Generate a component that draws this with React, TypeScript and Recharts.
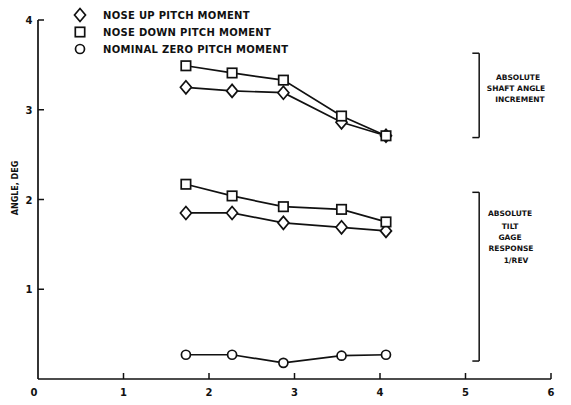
import React from "react";
import { LineChart, Line, XAxis, YAxis, ReferenceLine } from "recharts";

// advance ratio positions of the five test points
const xValues = [1.73, 2.27, 2.87, 3.55, 4.07];

// absolute shaft angle increment
const noseUpShaft = [3.25, 3.21, 3.19, 2.86, 2.71];
const noseDownShaft = [3.49, 3.41, 3.33, 2.93, 2.71];

// absolute tilt gage response 1/rev
const noseUpTilt = [1.85, 1.85, 1.74, 1.69, 1.65];
const noseDownTilt = [2.17, 2.04, 1.92, 1.89, 1.75];
const zeroTilt = [0.27, 0.27, 0.18, 0.26, 0.27];

const xTicks = [0, 1, 2, 3, 4, 5, 6];
const yTicks = [0, 1, 2, 3, 4];

const legendItems = [
  { label: "NOSE UP PITCH MOMENT", shape: "diamond" },
  { label: "NOSE DOWN PITCH MOMENT", shape: "square" },
  { label: "NOMINAL ZERO PITCH MOMENT", shape: "circle" },
];

const toPoints = (ys: number[]) => ys.map((y, i) => ({ x: xValues[i], y }));

const INK = "#111";
const FONT = "'DejaVu Sans', sans-serif";

const Marker = ({ shape, cx, cy }: { shape: string; cx: number; cy: number }) => {
  if (shape === "diamond") {
    return (
      <polygon
        points={`${cx},${cy - 6.5} ${cx + 5.5},${cy} ${cx},${cy + 6.5} ${cx - 5.5},${cy}`}
        fill="#fff"
        stroke={INK}
        strokeWidth={1.7}
      />
    );
  }
  if (shape === "square") {
    return (
      <rect x={cx - 4.7} y={cy - 4.7} width={9.4} height={9.4} fill="#fff" stroke={INK} strokeWidth={1.7} />
    );
  }
  return <circle cx={cx} cy={cy} r={4.5} fill="#fff" stroke={INK} strokeWidth={1.7} />;
};

const dotFor = (shape: string) => (props: any) => (
  <Marker key={`${shape}-${props.index}`} shape={shape} cx={props.cx} cy={props.cy} />
);

const XTick = (props: any) => {
  const { x, y, payload } = props;
  return (
    <g>
      {payload.value > 0 && <line x1={x} y1={y} x2={x} y2={y - 6} stroke={INK} strokeWidth={1.5} />}
      <text x={payload.value === 0 ? x - 4 : x} y={y + 17} textAnchor="middle" fontSize={10} fontWeight="bold" fontFamily={FONT} fill={INK}>
        {payload.value}
      </text>
    </g>
  );
};

const YTick = (props: any) => {
  const { x, y, payload } = props;
  if (payload.value === 0) return <g />;
  return (
    <g>
      <line x1={x} y1={y} x2={x + 6} y2={y} stroke={INK} strokeWidth={1.5} />
      <text x={x - 9} y={y + 4} textAnchor="middle" fontSize={10} fontWeight="bold" fontFamily={FONT} fill={INK}>
        {payload.value}
      </text>
    </g>
  );
};

const series = [
  { id: "nu-shaft", ys: noseUpShaft, shape: "diamond" },
  { id: "nd-shaft", ys: noseDownShaft, shape: "square" },
  { id: "nu-tilt", ys: noseUpTilt, shape: "diamond" },
  { id: "nd-tilt", ys: noseDownTilt, shape: "square" },
  { id: "zero-tilt", ys: zeroTilt, shape: "circle" },
];

// bracket annotations in data units
const brackets = [
  { x: 5.16, top: 3.63, bottom: 2.69 },
  { x: 5.16, top: 2.08, bottom: 0.2 },
];
const serif = 0.08;

const noteStyle = { fontSize: 7.5, fontWeight: "bold" as const, fontFamily: FONT, fill: INK };

export default function App() {
  return (
    <div style={{ position: "absolute", left: 0, top: 0, width: 571, height: 405, background: "#fff" }}>
      <LineChart width={571} height={405} margin={{ top: 20, right: 20, bottom: 0, left: 0 }}>
        <XAxis
          type="number"
          dataKey="x"
          domain={[0, 6]}
          ticks={xTicks}
          height={26}
          tickSize={0}
          tickMargin={0}
          tick={<XTick />}
          axisLine={{ stroke: INK, strokeWidth: 1.7 }}
          tickLine={false}
          allowDataOverflow
        />
        <YAxis
          type="number"
          domain={[0, 4]}
          ticks={yTicks}
          width={38}
          tickSize={0}
          tickMargin={0}
          tick={<YTick />}
          axisLine={{ stroke: INK, strokeWidth: 1.7 }}
          tickLine={false}
          allowDataOverflow
        />
        {brackets.map((b, i) => (
          <ReferenceLine key={`bv-${i}`} segment={[{ x: b.x, y: b.top }, { x: b.x, y: b.bottom }]} stroke={INK} strokeWidth={1.5} />
        ))}
        {brackets.map((b, i) => (
          <ReferenceLine key={`bt-${i}`} segment={[{ x: b.x - serif, y: b.top }, { x: b.x, y: b.top }]} stroke={INK} strokeWidth={1.5} />
        ))}
        {brackets.map((b, i) => (
          <ReferenceLine key={`bb-${i}`} segment={[{ x: b.x - serif, y: b.bottom }, { x: b.x, y: b.bottom }]} stroke={INK} strokeWidth={1.5} />
        ))}
        {series.map((s) => (
          <Line
            key={s.id}
            data={toPoints(s.ys)}
            dataKey="y"
            type="linear"
            stroke={INK}
            strokeWidth={1.7}
            dot={dotFor(s.shape)}
            activeDot={false}
            isAnimationActive={false}
          />
        ))}
      </LineChart>
      <svg width={571} height={405} style={{ position: "absolute", left: 0, top: 0, pointerEvents: "none" }}>
        {legendItems.map((item, i) => (
          <g key={item.label}>
            <Marker shape={item.shape} cx={80} cy={15 + i * 17} />
            <text x={103} y={19 + i * 17} fontSize={10} fontWeight="bold" fontFamily={FONT} letterSpacing={0.3} fill={INK}>
              {item.label}
            </text>
          </g>
        ))}
        <text transform="translate(18,188) rotate(-90)" textAnchor="middle" {...noteStyle} fontSize={8}>
          ANGLE, DEG
        </text>
        <text x={518} y={80} textAnchor="middle" {...noteStyle}>ABSOLUTE</text>
        <text x={516} y={91} textAnchor="middle" {...noteStyle}>SHAFT ANGLE</text>
        <text x={520} y={102} textAnchor="middle" {...noteStyle}>INCREMENT</text>
        <text x={510} y={216} textAnchor="middle" {...noteStyle}>ABSOLUTE</text>
        <text x={510} y={229} textAnchor="middle" {...noteStyle}>TILT</text>
        <text x={510} y={240} textAnchor="middle" {...noteStyle}>GAGE</text>
        <text x={511} y={251} textAnchor="middle" {...noteStyle}>RESPONSE</text>
        <text x={516} y={263} textAnchor="middle" {...noteStyle}>1/REV</text>
      </svg>
    </div>
  );
}
